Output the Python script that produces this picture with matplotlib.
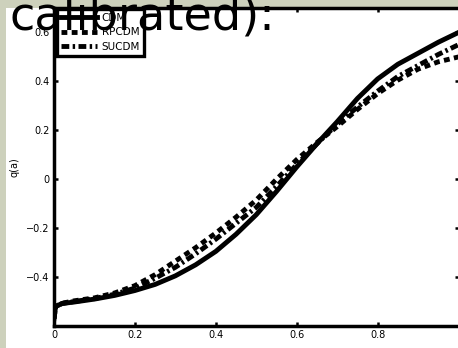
import matplotlib
matplotlib.use("Agg")
import matplotlib.pyplot as plt
import numpy as np

# scale factor a and deceleration parameter q(a) for the three models
a = [0.0, 0.004, 0.02, 0.05, 0.1, 0.15, 0.2, 0.25, 0.3, 0.35, 0.4, 0.45,
     0.5, 0.55, 0.6, 0.65, 0.7, 0.75, 0.8, 0.85, 0.9, 0.95, 1.0]
q_cdm = [-0.57, -0.52, -0.508, -0.502, -0.49, -0.475, -0.455, -0.43, -0.395,
         -0.35, -0.295, -0.225, -0.145, -0.05, 0.05, 0.145, 0.235, 0.33,
         0.41, 0.47, 0.515, 0.56, 0.60]
q_rpcdm = [-0.57, -0.52, -0.507, -0.497, -0.485, -0.465, -0.435, -0.39,
           -0.335, -0.28, -0.22, -0.155, -0.085, 0.0, 0.08, 0.15, 0.215,
           0.285, 0.35, 0.405, 0.45, 0.48, 0.50]
q_sucdm = [-0.57, -0.52, -0.508, -0.50, -0.488, -0.47, -0.445, -0.405, -0.36,
           -0.305, -0.245, -0.18, -0.115, -0.03, 0.06, 0.145, 0.225, 0.295,
           0.36, 0.42, 0.465, 0.51, 0.55]

xticks = [0, 0.2, 0.4, 0.6, 0.8]
xtick_labels = ["0", "0.2", "0.4", "0.6", "0.8"]
yticks = [-0.4, -0.2, 0, 0.2, 0.4, 0.6]
ytick_labels = ["\u22120.4", "\u22120.2", "0", "0.2", "0.4", "0.6"]

W, H = 458, 348
fig = plt.figure(figsize=(W / 100, H / 100), dpi=100, facecolor="#cdd1bc")

# white panel behind the plot
fig.patches.append(plt.Rectangle((6 / W, 0), 1 - 6 / W, (H - 8) / H,
                                 transform=fig.transFigure, facecolor="white",
                                 edgecolor="none", zorder=-5))

ax = fig.add_axes([54 / W, 22 / H, 404.5 / W, 318 / H])
ax.set_zorder(1)
ax.set_facecolor("white")

lw = 3.5
ax.plot(a, q_cdm, color="black", lw=lw, ls="-", label="CDM")
ax.plot(a, q_rpcdm, color="black", lw=lw, ls=(0, (1.2, 0.9)), label="RPCDM")
ax.plot(a, q_sucdm, color="black", lw=lw, ls=(0, (1.6, 0.7, 0.5, 0.7)),
        label="SUCDM")

ax.set_xlim(0, 1)
ax.set_ylim(-0.6, 0.7)
ax.set_xticks(xticks)
ax.set_xticklabels(xtick_labels)
ax.set_yticks(yticks)
ax.set_yticklabels(ytick_labels)

for s in ax.spines.values():
    s.set_linewidth(2.5)
ax.spines["right"].set_linewidth(1.0)
ax.spines["right"].set_color("#999999")
ax.tick_params(direction="in", length=3, width=1.8, top=True, right=True,
               labelsize=7, pad=3)
for lab in ax.get_xticklabels() + ax.get_yticklabels():
    lab.set_family("DejaVu Sans")

ax.set_xlabel("a", fontsize=7, family="DejaVu Sans", labelpad=5)
ax.set_ylabel("q(a)", fontsize=7, family="DejaVu Sans", labelpad=5)

leg = ax.legend(loc="upper left", bbox_to_anchor=(0.008, 0.997),
                handlelength=3.5, handletextpad=0.4, borderpad=0.35,
                labelspacing=0.45, fancybox=False, framealpha=1,
                borderaxespad=0.0,
                prop={"family": "DejaVu Sans", "size": 7.5})
leg.get_frame().set_edgecolor("black")
leg.get_frame().set_linewidth(2.4)

# heading text running over the top of the panel
title = fig.text(10 / W, 1 - 29 / H, "calibrated):", fontsize=33.3,
                 family="DejaVu Sans", color="black", va="baseline",
                 ha="left")
title.set_zorder(10)

fig.savefig("out.png", dpi=100, facecolor=fig.get_facecolor())
